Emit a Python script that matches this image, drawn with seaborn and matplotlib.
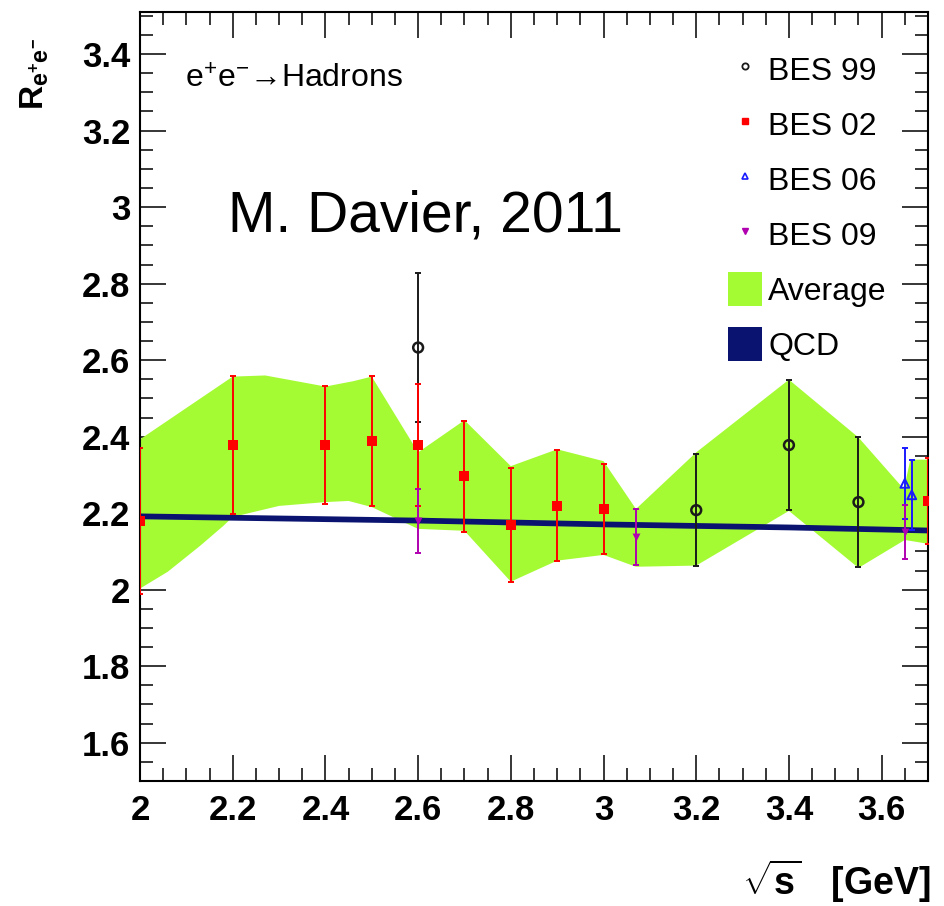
import matplotlib
matplotlib.use("Agg")
import matplotlib.pyplot as plt
import numpy as np
import pandas as pd
import seaborn as sns
from matplotlib.ticker import MultipleLocator, FuncFormatter
from matplotlib.lines import Line2D
from matplotlib.patches import Patch

# ---------------- data: R ratio measurements (sqrt(s) in GeV) ----------------
bes99_x = [2.6, 3.2, 3.4, 3.55]
bes99_r = [2.633, 2.208, 2.378, 2.229]
bes99_err = [0.195, 0.147, 0.170, 0.170]

bes02_x = [2.0, 2.2, 2.4, 2.5, 2.6, 2.7, 2.8, 2.9, 3.0, 3.7]
bes02_r = [2.18, 2.378, 2.378, 2.388, 2.378, 2.297, 2.169, 2.219, 2.211, 2.232]
bes02_err = [0.19, 0.18, 0.155, 0.17, 0.16, 0.145, 0.15, 0.145, 0.117, 0.113]

bes06_x = [3.650, 3.665]
bes06_r = [2.278, 2.248]
bes06_err = [0.092, 0.091]

bes09_x = [2.6, 3.07, 3.65]
bes09_r = [2.18, 2.138, 2.151]
bes09_err = [0.083, 0.073, 0.070]

# average band: upper and lower edges
avg_hi_x = [2.0, 2.2, 2.27, 2.36, 2.4, 2.46, 2.5, 2.6, 2.7, 2.8, 2.9, 3.0,
            3.07, 3.2, 3.4, 3.55, 3.648, 3.662, 3.7]
avg_hi = [2.393, 2.557, 2.560, 2.540, 2.531, 2.545, 2.557, 2.359, 2.443, 2.323,
          2.367, 2.336, 2.211, 2.359, 2.549, 2.398, 2.263, 2.340, 2.340]
avg_lo_x = [2.0, 2.06, 2.13, 2.18, 2.2, 2.3, 2.4, 2.45, 2.5, 2.6, 2.7, 2.8,
            2.9, 3.0, 3.07, 3.2, 3.4, 3.55, 3.65, 3.7]
avg_lo = [2.003, 2.047, 2.115, 2.167, 2.190, 2.219, 2.229, 2.232, 2.216, 2.159,
          2.154, 2.021, 2.076, 2.091, 2.060, 2.063, 2.206, 2.057, 2.130, 2.120]

# perturbative QCD prediction
qcd_x = [2.0, 2.6, 3.0, 3.4, 3.7]
qcd_r = [2.193, 2.182, 2.172, 2.164, 2.156]
qcd_halfwidth = 0.0075

legend_labels = ["BES 99", "BES 02", "BES 06", "BES 09", "Average", "QCD"]

# ---------------- style ----------------
sns.set_theme(style="ticks")
plt.rcParams["font.family"] = ["Liberation Sans", "DejaVu Sans"]
plt.rcParams["mathtext.fontset"] = "custom"
plt.rcParams["mathtext.rm"] = "Liberation Sans"
plt.rcParams["mathtext.bf"] = "Liberation Sans:bold"
plt.rcParams["mathtext.it"] = "Liberation Sans:italic"
plt.rcParams["mathtext.sf"] = "Liberation Sans"

FAMILY = ["Liberation Sans", "DejaVu Sans"]

C_GREEN = "#a5fb33"
C_NAVY = "#0a1470"
C_RED = "#ff0000"
C_BLUE = "#1a1aff"
C_PURPLE = "#b000b0"
C_BLACK = "#1a1a1a"

fig = plt.figure(figsize=(9.44, 9.06), dpi=100)
ax = fig.add_axes([140 / 944, 1 - 781 / 906, 788 / 944, 769 / 906])
ax.set_facecolor("white")

# average band
poly_x = list(avg_hi_x) + list(avg_lo_x[::-1])
poly_y = list(avg_hi) + list(avg_lo[::-1])
ax.fill(poly_x, poly_y, color=C_GREEN, lw=0, zorder=1)

# QCD band
qx = np.array(qcd_x)
qr = np.array(qcd_r)
ax.fill_between(qx, qr - qcd_halfwidth, qr + qcd_halfwidth, color=C_NAVY, lw=0, zorder=2)

# error bars
eb_kw = dict(fmt="none", elinewidth=1.4, capsize=2.4, capthick=1.4, zorder=3)
ax.errorbar(bes99_x, bes99_r, yerr=bes99_err, ecolor=C_BLACK, **eb_kw)
ax.errorbar(bes02_x, bes02_r, yerr=bes02_err, ecolor=C_RED, **eb_kw)
ax.errorbar(bes06_x, bes06_r, yerr=bes06_err, ecolor=C_BLUE, **eb_kw)
ax.errorbar(bes09_x, bes09_r, yerr=bes09_err, ecolor=C_PURPLE, **eb_kw)

# markers
df99 = pd.DataFrame({"x": bes99_x, "r": bes99_r})
df02 = pd.DataFrame({"x": bes02_x, "r": bes02_r})
df06 = pd.DataFrame({"x": bes06_x, "r": bes06_r})
df09 = pd.DataFrame({"x": bes09_x, "r": bes09_r})
sns.scatterplot(data=df99, x="x", y="r", marker="o", s=50, facecolors="none",
                edgecolor=C_BLACK, linewidth=1.8, ax=ax, zorder=4, legend=False)
sns.scatterplot(data=df02, x="x", y="r", marker="s", s=42, color=C_RED,
                edgecolor=C_RED, linewidth=0, ax=ax, zorder=4, legend=False)
sns.scatterplot(data=df06, x="x", y="r", marker="^", s=40, facecolors="none",
                edgecolor=C_BLUE, linewidth=1.4, ax=ax, zorder=4, legend=False)
sns.scatterplot(data=df09, x="x", y="r", marker="v", s=32, color=C_PURPLE,
                edgecolor=C_PURPLE, linewidth=0, ax=ax, zorder=4, legend=False)

# ---------------- axes ----------------
ax.set_xlim(2.0, 3.7)
ax.set_ylim(1.5, 3.51)
ax.xaxis.set_major_locator(MultipleLocator(0.2))
ax.xaxis.set_minor_locator(MultipleLocator(0.05))
ax.yaxis.set_major_locator(MultipleLocator(0.2))
ax.yaxis.set_minor_locator(MultipleLocator(0.05))
fmt = FuncFormatter(lambda v, p: "%g" % round(v, 2))
ax.xaxis.set_major_formatter(fmt)
ax.yaxis.set_major_formatter(fmt)
ax.tick_params(which="both", direction="in", top=True, right=True, color="black")
ax.tick_params(which="major", length=18.5, width=1.1)
ax.tick_params(which="minor", length=9.5, width=1.1)
ax.tick_params(axis="x", which="major", pad=9)
ax.tick_params(axis="y", which="major", pad=7)
for lab in ax.get_xticklabels() + ax.get_yticklabels():
    lab.set_fontfamily(FAMILY)
    lab.set_fontweight("bold")
    lab.set_fontsize(25)
    lab.set_color("black")
for sp in ax.spines.values():
    sp.set_linewidth(1.5)
    sp.set_color("black")
ax.grid(False)

ax.set_xlabel(r"$\mathbf{\sqrt{s}}$   [GeV]", fontfamily=FAMILY, fontweight="bold",
              fontsize=27, color="black", loc="right", va="center")
ax.xaxis.set_label_coords(1.003, -0.13)
ax.set_ylabel(r"$\mathbf{R_{e^{+}e^{-}}}$", fontsize=24, color="black",
              ha="right", va="center")
ax.yaxis.set_label_coords(-0.133, 0.966)

# annotations
ax.text(0.057, 0.902, "e$^{+}$e$^{-}$\u2192Hadrons", transform=ax.transAxes,
        fontsize=23, color="black", ha="left", va="baseline")
ax.text(0.1117, 0.715, "M. Davier, 2011", transform=ax.transAxes,
        fontsize=41, color="black", ha="left", va="baseline")

# legend
handles = [
    Line2D([], [], ls="none", marker="o", ms=4.5, mfc="none", mec=C_BLACK, mew=1.3),
    Line2D([], [], ls="none", marker="s", ms=5, mfc=C_RED, mec=C_RED),
    Line2D([], [], ls="none", marker="^", ms=4.5, mfc="none", mec=C_BLUE, mew=1.2),
    Line2D([], [], ls="none", marker="v", ms=4.5, mfc=C_PURPLE, mec=C_PURPLE),
    Patch(facecolor=C_GREEN, edgecolor="none"),
    Patch(facecolor=C_NAVY, edgecolor="none"),
]
leg = ax.legend(handles, legend_labels, loc="upper left", bbox_to_anchor=(0.746, 0.948),
                frameon=False, prop={"family": FAMILY, "size": 23},
                handlelength=1.07, handleheight=1.25, handletextpad=0.2,
                labelspacing=0.64, borderpad=0, borderaxespad=0)
for t in leg.get_texts():
    t.set_color("black")

fig.savefig("out.png", dpi=100, facecolor="white")
